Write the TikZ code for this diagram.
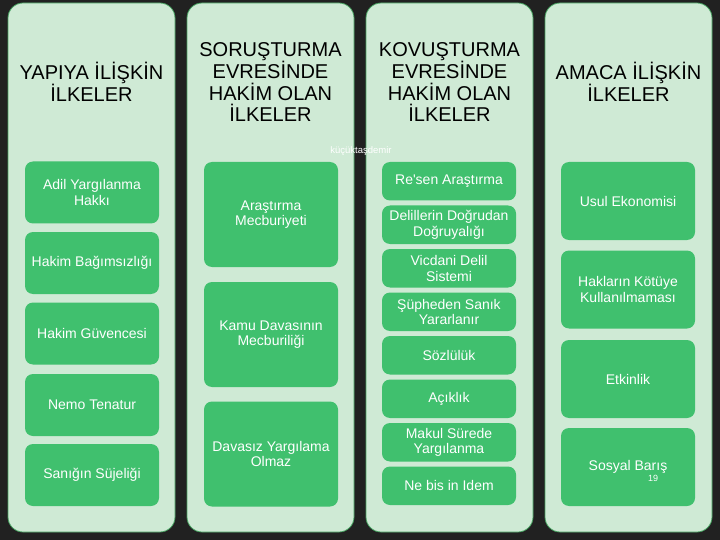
\documentclass[tikz,border=0pt]{standalone}
\usepackage{fontspec}
\setmainfont{Liberation Sans}
\definecolor{zemin}{RGB}{33,33,33}
\definecolor{acik}{RGB}{207,234,213}
\definecolor{kenar}{RGB}{70,160,95}
\definecolor{koyu}{RGB}{64,192,110}

\begin{document}
\begin{tikzpicture}[x=1pt,y=-1pt,
		sutun/.style={draw=kenar,line width=0.8pt,fill=acik,rounded corners=15pt,minimum width=167pt,minimum height=529pt,inner sep=0pt},
		baslik/.style={align=center,text=black,font=\fontsize{20}{21.5}\selectfont},
		kutu/.style={fill=koyu,rounded corners=8pt,text=white,align=center,minimum width=134pt,inner sep=0pt,font=\fontsize{14}{15.5}\selectfont}]
		\fill[zemin] (0,0) rectangle (720,540);
		\useasboundingbox (0,0) rectangle (720,540);
		% dort sutun
		\node[sutun] (yapi) at (91.5,267.5) {};
		\node[sutun] (soru) at (270.5,267.5) {};
		\node[sutun] (kovu) at (449.5,267.5) {};
		\node[sutun] (amac) at (628.5,267.5) {};
		\node[baslik] (yapiB) at (91.5,82) {YAPIYA İLİŞKİN\\İLKELER};
		\node[baslik] (soruB) at (270.5,82) {SORUŞTURMA\\EVRESİNDE\\HAKİM OLAN\\İLKELER};
		\node[baslik] (kovuB) at (449.5,82) {KOVUŞTURMA\\EVRESİNDE\\HAKİM OLAN\\İLKELER};
		\node[baslik] (amacB) at (628.5,82) {AMACA İLİŞKİN\\İLKELER};
		\node[text=white,font=\fontsize{9.5}{10}\selectfont] (imza) at (361,151) {küçüktaşdemir};
		% yapiya iliskin
		\node[kutu,minimum height=62pt] (adil) at (92,192.5) {Adil Yargılanma\\Hakkı};
		\node[kutu,minimum height=62pt] (bagimsiz) at (92,263) {Hakim Bağımsızlığı};
		\node[kutu,minimum height=62pt] (guvence) at (92,333.5) {Hakim Güvencesi};
		\node[kutu,minimum height=62pt] (nemo) at (92,405) {Nemo Tenatur};
		\node[kutu,minimum height=62pt] (sujelik) at (92,475) {Sanığın Süjeliği};
		% sorusturma evresi
		\node[kutu,minimum height=105pt] (arastirma) at (271,214.5) {Araştırma\\Mecburiyeti};
		\node[kutu,minimum height=105pt] (kamu) at (271,334.5) {Kamu Davasının\\Mecburiliği};
		\node[kutu,minimum height=105pt] (davasiz) at (271,454) {Davasız Yargılama\\Olmaz};
		% kovusturma evresi
		\node[kutu,minimum height=38.5pt] (resen) at (449,181.25) {Re\textquotesingle sen Araştırma};
		\node[kutu,minimum height=38.5pt] (delil) at (449,224.75) {Delillerin Doğrudan\\Doğruyalığı};
		\node[kutu,minimum height=38.5pt] (vicdan) at (449,268.25) {Vicdani Delil\\Sistemi};
		\node[kutu,minimum height=38.5pt] (suphe) at (449,311.75) {Şüpheden Sanık\\Yararlanır};
		\node[kutu,minimum height=38.5pt] (sozlu) at (449,355.25) {Sözlülük};
		\node[kutu,minimum height=38.5pt] (acik) at (449,398.75) {Açıklık};
		\node[kutu,minimum height=38.5pt] (makul) at (449,442.25) {Makul Sürede\\Yargılanma};
		\node[kutu,minimum height=38.5pt] (nebis) at (449,485.75) {Ne bis in Idem};
		% amaca iliskin
		\node[kutu,minimum height=78pt] (usul) at (628,201) {Usul Ekonomisi};
		\node[kutu,minimum height=78pt] (kotuye) at (628,289.5) {Hakların Kötüye\\Kullanılmaması};
		\node[kutu,minimum height=78pt] (etkin) at (628,379) {Etkinlik};
		\node[kutu,minimum height=78pt] (baris) at (628,467) {Sosyal Barış};
		\node[text=white,font=\fontsize{9}{9}\selectfont] (sayfa) at (653,478) {19};
	\end{tikzpicture}
\end{document}
